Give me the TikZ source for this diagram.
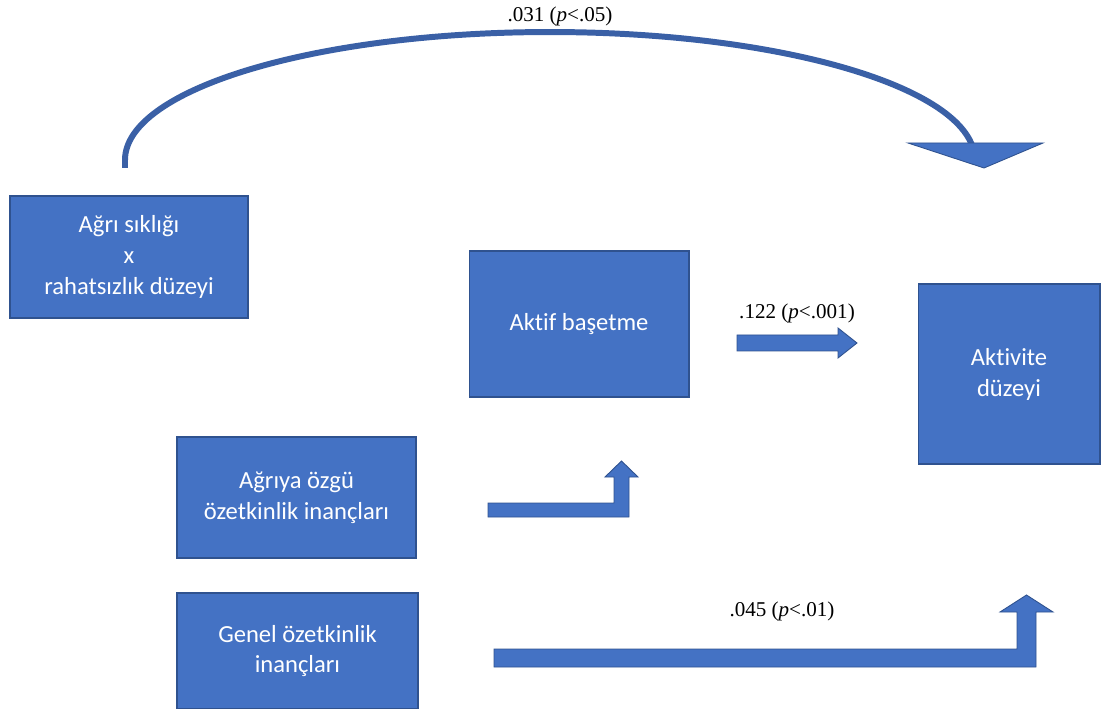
\documentclass[tikz,border=0pt]{standalone}
\usepackage{fontspec}
\setmainfont{Liberation Serif}
\newfontfamily\boxfont[Ligatures=NoCommon]{Carlito}
\usepackage{xcolor}
\definecolor{boxblue}{HTML}{4472C4}
\definecolor{boxedge}{HTML}{2F528F}
\definecolor{arcblue}{HTML}{3A60A6}
\tikzset{%
  every factor/.style={
    draw=boxedge,
    fill=boxblue,
    line width=0.6pt,
    text=white,
    align=center,
    inner sep=0pt,
    font=\boxfont\fontsize{14}{17.6}\selectfont
  },
  block arrow/.style={
    draw=boxedge,
    fill=boxblue,
    line width=0.5pt
  },
  coef/.style={
    font=\fontsize{12}{14}\selectfont
  },
}

\begin{document}
\begin{tikzpicture}[x=0.02cm,y=-0.02cm]
      \useasboundingbox (0,0) rectangle (1105,709);

      % Pain frequency x distress
      \node[every factor,minimum width=4.76cm,minimum height=2.44cm] (freq) at (129,257) {Ağrı sıklığı\\x\\rahatsızlık düzeyi};

      % Active coping
      \node[every factor,minimum width=4.4cm,minimum height=2.92cm] (coping) at (579,324) {Aktif başetme};

      % Activity level
      \node[every factor,minimum width=3.64cm,minimum height=3.6cm] (activity) at (1009,374) {Aktivite\\düzeyi};

      % Pain-specific self-efficacy
      \node[every factor,minimum width=4.78cm,minimum height=2.42cm] (specific) at (296.5,497.5) {Ağrıya özgü\\özetkinlik inançları};

      % General self-efficacy
      \node[every factor,minimum width=4.82cm,minimum height=2.32cm] (general) at (297.5,651) {Genel özetkinlik\\inançları};

      % freq -> activity
      \coordinate (arcstart) at (125,168);
      \coordinate (arcend) at (975,160);
      \draw[arcblue,line width=3.4pt] (arcstart) -- ++(0,-8) arc[start angle=180,end angle=0,x radius=8.5cm,y radius=2.56cm];
      \draw[block arrow] (908,143) -- (1043,143) -- (984,168) -- cycle;
      \node[coef] (c1) at (560,16) {.031 (\textit{p}<.05)};

      % coping -> activity
      \draw[block arrow] (737,335) -- (838,335) -- (838,328) -- (857,343) -- (838,358) -- (838,351) -- (737,351) -- cycle;
      \node[coef] (c2) at (797,313) {.122 (\textit{p}<.001)};

      % specific -> coping
      \draw[block arrow] (488,503) -- (614,503) -- (614,477) -- (605,477) -- (621.5,461) -- (638,477) -- (629,477) -- (629,517) -- (488,517) -- cycle;

      % general -> activity
      \draw[block arrow] (494,649) -- (1017,649) -- (1017,612) -- (1000,612) -- (1026.5,595) -- (1053,612) -- (1036,612) -- (1036,667) -- (494,667) -- cycle;
      \node[coef] (c3) at (782,611) {.045 (\textit{p}<.01)};
\end{tikzpicture}
\end{document}
